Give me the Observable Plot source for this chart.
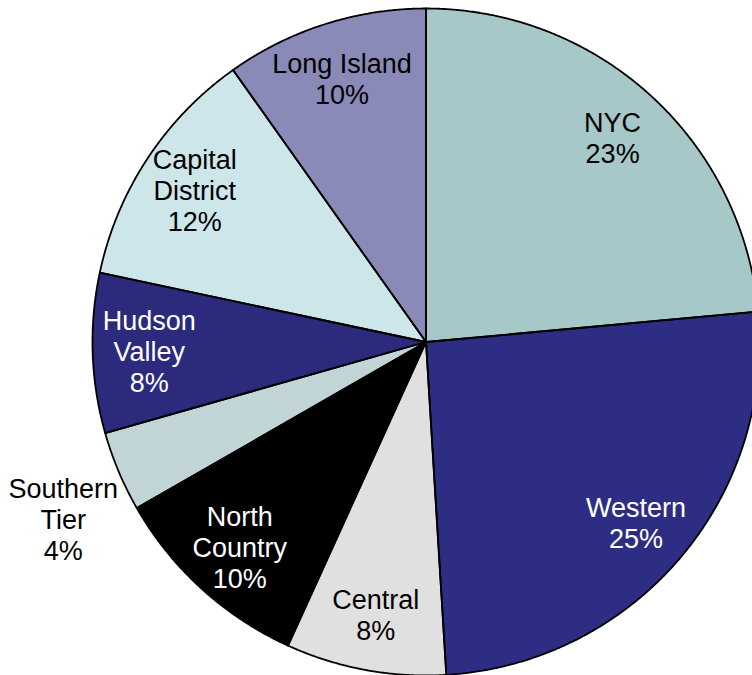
<!DOCTYPE html>
<html><head><meta charset="utf-8">
<script src="https://cdn.jsdelivr.net/npm/d3@7"></script>
<script src="https://cdn.jsdelivr.net/npm/@observablehq/plot@0.6"></script>
<style>body{margin:0;background:#fff} #chart svg{display:block;background:#fff}</style>
</head><body><div id="chart"></div>
<script>
// Data (clockwise from 12 o'clock)
const regions = ["NYC","Western","Central","North Country","Southern Tier","Hudson Valley","Capital District","Long Island"];
const labelNames = ["NYC","Western","Central","North\nCountry","Southern\nTier","Hudson\nValley","Capital\nDistrict","Long Island"];
const shares = [23.55,25.48,7.76,9.91,3.9,7.73,11.85,9.82];
const pctLabels = ["23%","25%","8%","10%","4%","8%","12%","10%"];
const palette = ["#a6c8c9","#2e2d84","#e0e0e0","#000000","#c1d4d6","#2b2a7c","#cde6ea","#8a8ab8"];

const W = 752, H = 675, cx = 425.5, cy = 341.5, R = 333.5;

const arcs = d3.pie().sort(null).value(d => d)(shares);
const pts = [];
arcs.forEach((a, i) => {
  const region = regions[i];
  pts.push({region, x: 0, y: 0});
  const n = Math.max(4, Math.ceil((a.endAngle - a.startAngle) / 0.005));
  for (let k = 0; k <= n; k++) {
    const t = a.startAngle + (a.endAngle - a.startAngle) * k / n;
    pts.push({region, x: Math.sin(t), y: Math.cos(t)});
  }
  pts.push({region, x: 0, y: 0});
});

const labels = arcs.map((a, i) => {
  const inside = shares[i] >= 5;
  const mid = (a.startAngle + a.endAngle) / 2 - (inside ? 0 : 0.055);
  const rr = inside ? 0.83 : 1.21;
  const dark = d3.hsl(palette[i]).l < 0.4;
  return {
    x: rr * Math.sin(mid),
    y: rr * Math.cos(mid),
    text: labelNames[i] + "\n" + pctLabels[i],
    light: inside && dark
  };
});

const font = "'Liberation Sans', Arial, Helvetica, sans-serif";
const fs = 27;
const chart = Plot.plot({
  width: W, height: H, margin: 0,
  style: {background: "#fff"},
  x: {domain: [-cx / R, (W - cx) / R], range: [0, W], axis: null},
  y: {domain: [-(H - cy) / R, cy / R], range: [H, 0], axis: null},
  color: {domain: regions, range: palette},
  marks: [
    Plot.line(pts, {x: "x", y: "y", z: "region", fill: "region", stroke: null, curve: "linear", clip: true}),
    Plot.line(pts, {x: "x", y: "y", z: "region", stroke: "#000", strokeWidth: 1.8, strokeLinejoin: "round", curve: "linear", clip: true}),
    Plot.text(labels, {filter: d => !d.light, x: "x", y: "y", text: "text", fill: "#000", fontSize: fs, lineHeight: 1.15, fontFamily: font, textAnchor: "middle"}),
    Plot.text(labels, {filter: d => d.light, x: "x", y: "y", text: "text", fill: "#fff", fontSize: fs, lineHeight: 1.15, fontFamily: font, textAnchor: "middle"})
  ]
});
document.getElementById("chart").appendChild(chart);
</script>
</body></html>
